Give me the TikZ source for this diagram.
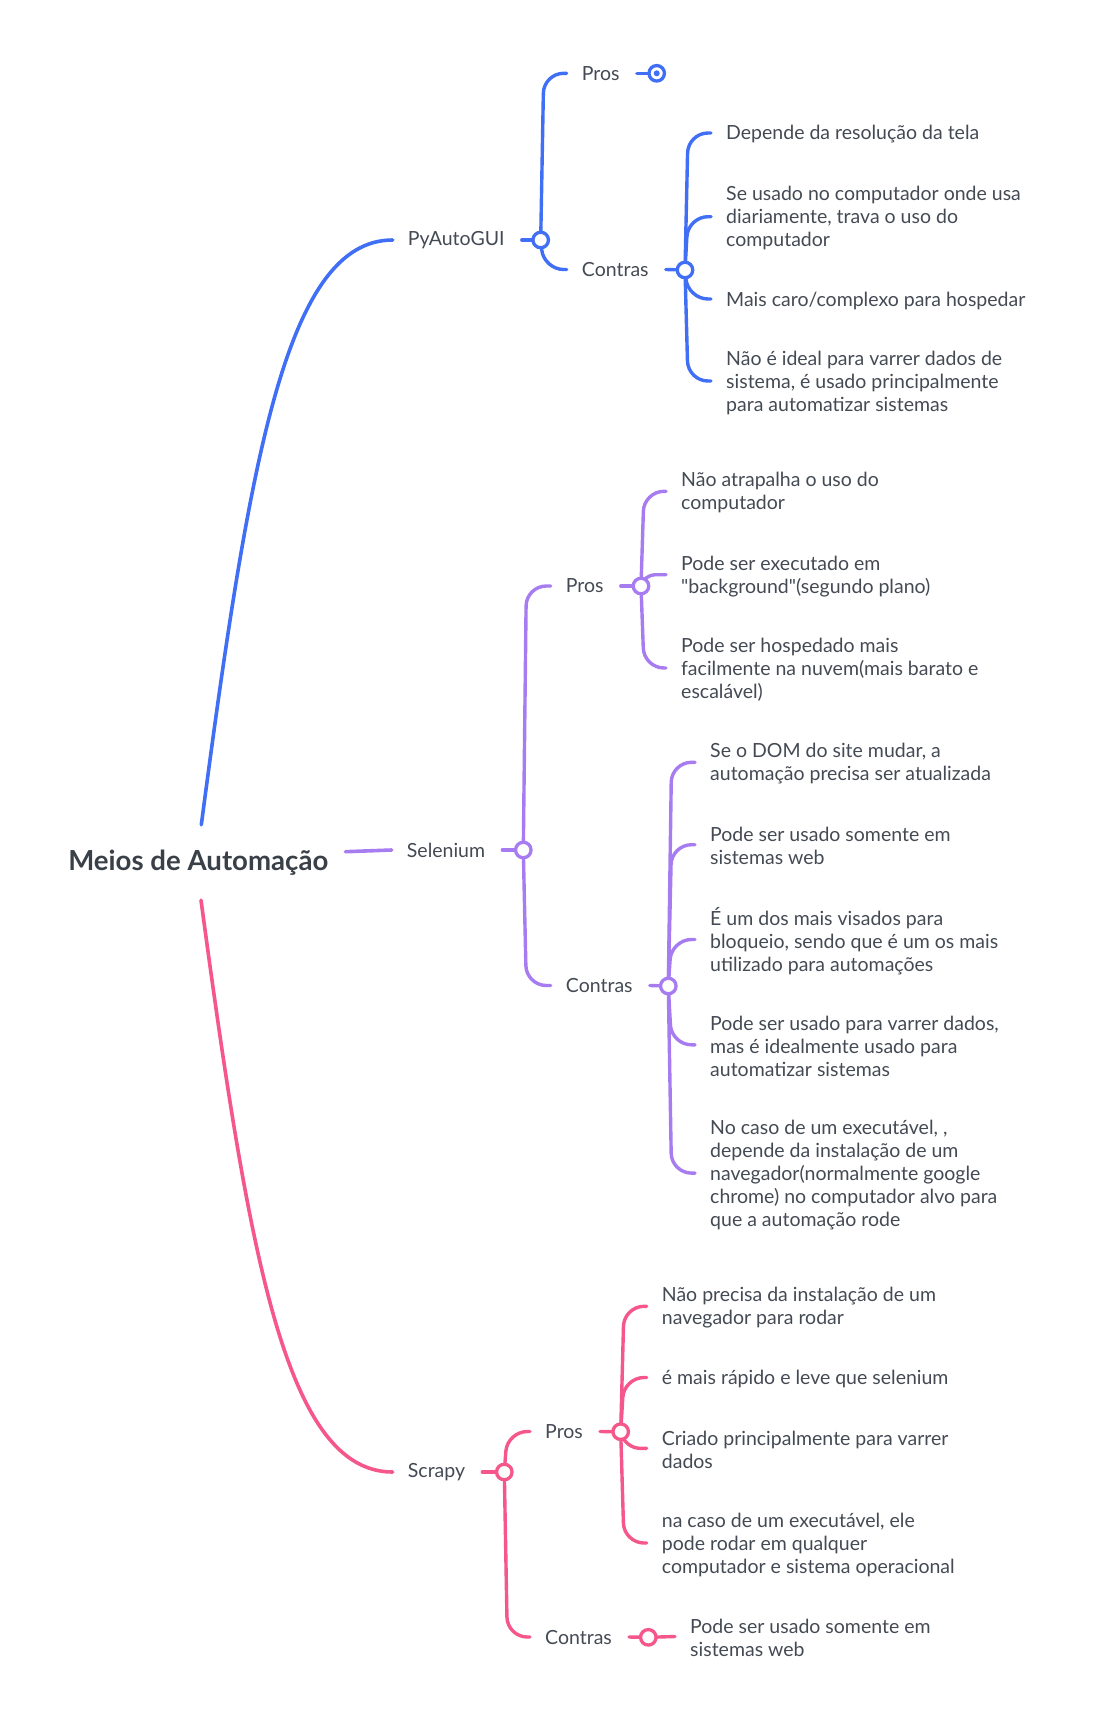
\documentclass[tikz,border=0pt]{standalone}
\usepackage{fontspec}
\setmainfont{Lato}[Ligatures=TeXOff]
\usetikzlibrary{backgrounds,calc}
\definecolor{cB}{RGB}{64,111,246}
\definecolor{cP}{RGB}{166,124,240}
\definecolor{cK}{RGB}{245,87,138}
\definecolor{tx}{RGB}{68,74,84}
\definecolor{tt}{RGB}{58,64,72}
\tikzset{
  lbl/.style={font=\fontsize{19.5}{23}\selectfont, text=tx, inner xsep=15pt, inner ysep=0pt, anchor=west, align=left},
  ttl/.style={font=\fontsize{27.6}{32}\selectfont\bfseries, text=tt, inner xsep=17pt, inner ysep=0pt, minimum height=75pt},
  ring/.style={circle, draw=#1, fill=white, line width=3.3pt, minimum size=15.5pt, inner sep=0pt},
  br/.style={draw=#1, line width=3.4pt, line cap=round},
}
% leaf connector: ends 1.5pt above the leaf node's west anchor
\newcommand\conn[4][20pt]{\draw[br=#2, rounded corners=#1] (#3.center) -- ($(#3v |- #4.west)+(0,1.5)$) -- ($(#4.west)+(0,1.5)$);}
\newcommand\connb[4][20pt]{\draw[br=#2, rounded corners=#1] (#3.center) -- (#3v |- #4.west) -- (#4.west);}
\newcommand\stub[3]{\draw[br=#1] ([xshift=2pt]#2.east) -- (#3.center);}
\begin{document}
\begin{tikzpicture}[x=1pt,y=1pt]
\useasboundingbox (0,0) rectangle (1093,-1724);
% root
\node[ttl] (root) at (198.3,-862.5) {Meios de Automação};
\coordinate (rootN) at ([xshift=3pt]root.north);
\coordinate (rootS) at ([xshift=2.7pt]root.south);
\coordinate (rootE) at ([yshift=10.8pt]root.east);
% level 1
\node[lbl] (pya) at (392.7,-240) {PyAutoGUI};
\node[lbl] (sel) at (391.7,-850) {Selenium};
\node[lbl] (scr) at (392.7,-1472) {Scrapy};
\node[ring=cB] (pyc) at (540.7,-240) {};
\node[ring=cP] (selc) at (523.3,-850) {};
\node[ring=cK] (scrc) at (504.3,-1472) {};
\coordinate (pycv) at (543.7,-240);
\coordinate (selcv) at (526.3,-850);
\coordinate (scrcv) at (507.3,-1472);
% PyAutoGUI block
\node[lbl] (pr1) at (566.7,-73.3) {Pros};
\node[lbl] (co1) at (566.7,-269.5) {Contras};
\node[ring=cB] (pr1c) at (656.7,-73.3) {};
\fill[cB] (pr1c.center) circle (3pt);
\node[ring=cB] (co1c) at (685,-270) {};
\coordinate (co1cv) at (688,-270);
\node[lbl] (a1) at (711,-134.5) {Depende da resolução da tela};
\node[lbl] (a2) at (711,-218.2) {Se usado no computador onde usa\\diariamente, trava o uso do\\computador};
\node[lbl] (a3) at (711,-300.5) {Mais caro/complexo para hospedar};
\node[lbl] (a4) at (711,-382.5) {Não é ideal para varrer dados de\\sistema, é usado principalmente\\para automatizar sistemas};
% Selenium block
\node[lbl] (pr2) at (550.7,-586) {Pros};
\node[lbl] (co2) at (550.7,-985.5) {Contras};
\node[ring=cP] (pr2c) at (641,-586) {};
\coordinate (pr2cv) at (644,-586);
\node[ring=cP] (co2c) at (668.3,-986) {};
\coordinate (co2cv) at (671.5,-986);
\node[lbl] (b1) at (666,-492.8) {Não atrapalha o uso do\\computador};
\node[lbl] (b2) at (666,-576.2) {Pode ser executado em\\"background"(segundo plano)};
\node[lbl] (b3) at (666,-669.5) {Pode ser hospedado mais\\facilmente na nuvem(mais barato e\\escalável)};
\node[lbl] (c1) at (695,-763.8) {Se o DOM do site mudar, a\\automação precisa ser atualizada};
\node[lbl] (c2) at (695,-846.2) {Pode ser usado somente em\\sistemas web};
\node[lbl] (c3) at (695,-941) {É um dos mais visados para\\bloqueio, sendo que é um os mais\\utilizado para automações};
\node[lbl] (c4) at (695,-1046.3) {Pode ser usado para varrer dados,\\mas é idealmente usado para\\automatizar sistemas};
\node[lbl] (c5) at (695,-1174.6) {No caso de um executável, ,\\depende da instalação de um\\navegador(normalmente google\\chrome) no computador alvo para\\que a automação rode};
% Scrapy block
\node[lbl] (pr3) at (530,-1431.5) {Pros};
\node[lbl] (co3) at (530,-1637) {Contras};
\node[ring=cK] (pr3c) at (620.7,-1431.7) {};
\coordinate (pr3cv) at (624,-1431.7);
\node[ring=cK] (co3c) at (648.3,-1637.3) {};
\node[lbl] (d1) at (646.7,-1307.8) {Não precisa da instalação de um\\navegador para rodar};
\node[lbl] (d2) at (646.7,-1379) {é mais rápido e leve que selenium};
\node[lbl] (d3) at (646.7,-1449.8) {Criado principalmente para varrer\\dados};
\node[lbl] (d4) at (646.7,-1544.5) {na caso de um executável, ele\\pode rodar em qualquer\\computador e sistema operacional};
\node[lbl] (e1) at (675,-1638) {Pode ser usado somente em\\sistemas web};
\begin{scope}[on background layer]
% root curves
\draw[br=cB, line width=3.6pt] (rootN) .. controls (249.3,-461.9) and (285.6,-240) .. (pya.west);
\draw[br=cK, line width=3.6pt] (rootS) .. controls (248.9,-1254.1) and (285.3,-1472) .. (scr.west);
\draw[br=cP, line width=3.6pt] (rootE) -- (sel.west);
% stubs
\stub{cB}{pya}{pyc}
\stub{cP}{sel}{selc}
\stub{cK}{scr}{scrc}
\stub{cB}{pr1}{pr1c}
\stub{cB}{co1}{co1c}
\stub{cP}{pr2}{pr2c}
\stub{cP}{co2}{co2c}
\stub{cK}{pr3}{pr3c}
\stub{cK}{co3}{co3c}
\draw[br=cK] (co3c.center) -- ($(e1.west)+(0,1.5)$);
% brackets
\connb{cB}{pyc}{pr1}
\connb{cB}{pyc}{co1}
\conn{cB}{co1c}{a1}
\conn{cB}{co1c}{a2}
\conn{cB}{co1c}{a3}
\conn{cB}{co1c}{a4}
\connb{cP}{selc}{pr2}
\connb{cP}{selc}{co2}
\conn{cP}{pr2c}{b1}
\conn[11pt]{cP}{pr2c}{b2}
\conn{cP}{pr2c}{b3}
\conn{cP}{co2c}{c1}
\conn{cP}{co2c}{c2}
\conn{cP}{co2c}{c3}
\conn{cP}{co2c}{c4}
\conn{cP}{co2c}{c5}
\connb{cK}{scrc}{pr3}
\connb{cK}{scrc}{co3}
\conn{cK}{pr3c}{d1}
\conn{cK}{pr3c}{d2}
\conn[16pt]{cK}{pr3c}{d3}
\conn{cK}{pr3c}{d4}
\end{scope}
\end{tikzpicture}
\end{document}
